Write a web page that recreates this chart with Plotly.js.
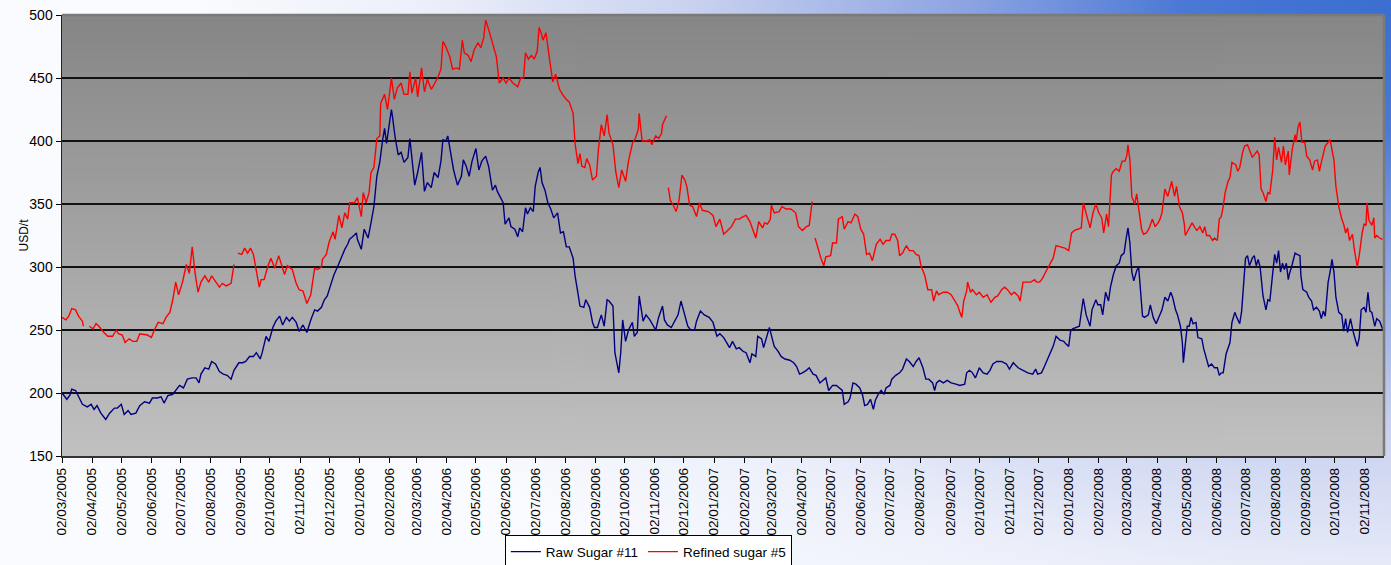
<!DOCTYPE html>
<html><head><meta charset="utf-8">
<script src="https://cdn.plot.ly/plotly-3.0.1.min.js"></script>
<style>
html,body{margin:0;padding:0;width:1391px;height:565px;overflow:hidden;}
body{background: radial-gradient(ellipse 1200px 740px at 100% 0%, #3a6ed0 0%, #4a78d5 17%, #8ea5e2 36%, #c8d1ef 58%, #eceffa 80%, #fafbfe 100%);}
#chart{width:1391px;height:565px;}
</style></head><body><div id="chart"></div><script>
// Days counted from 02/03/2005 (first trading day shown)
const startDate = '2005-03-02';
const endDate = '2008-11-21 12:00';

const monthLabels = ['02/03/2005','02/04/2005','02/05/2005','02/06/2005','02/07/2005','02/08/2005','02/09/2005','02/10/2005','02/11/2005','02/12/2005',
'02/01/2006','02/02/2006','02/03/2006','02/04/2006','02/05/2006','02/06/2006','02/07/2006','02/08/2006','02/09/2006','02/10/2006','02/11/2006','02/12/2006',
'02/01/2007','02/02/2007','02/03/2007','02/04/2007','02/05/2007','02/06/2007','02/07/2007','02/08/2007','02/09/2007','02/10/2007','02/11/2007','02/12/2007',
'02/01/2008','02/02/2008','02/03/2008','02/04/2008','02/05/2008','02/06/2008','02/07/2008','02/08/2008','02/09/2008','02/10/2008','02/11/2008'];

const rawDay = [0,5,8,10,14,18,21,26,30,33,36,40,45,49,54,57,61,64,68,71,76,80,85,90,93,98,102,105,109,114,117,121,125,129,134,138,141,143,147,151,154,158,162,166,170,174,177,182,186,189,193,197,200,204,206,210,213,217,220,224,227,231,234,237,241,244,248,252,256,260,263,267,270,273,277,280,284,287,291,294,296,299,303,304,308,311,315,318,321,324,327,330,332,334,336,339,340,343,346,349,352,356,358,360,363,366,370,373,376,380,383,387,390,392,395,397,400,403,407,411,413,416,419,422,426,429,432,436,439,443,446,448,450,454,456,460,462,466,469,471,474,477,479,482,485,487,490,492,494,497,500,503,506,510,513,516,519,522,526,528,531,533,537,539,543,546,548,551,555,558,561,563,567,569,571,573,575,577,580,583,587,589,592,594,598,601,605,608,611,614,618,620,623,627,630,634,637,641,644,647,651,653,657,661,666,670,674,677,681,684,687,690,694,697,701,704,708,710,714,716,720,722,725,728,731,733,737,740,744,749,753,756,759,762,766,769,773,776,780,783,786,789,793,797,800,803,805,809,811,814,817,821,824,826,829,832,835,837,840,843,846,848,852,854,858,862,865,869,872,876,879,882,886,889,892,896,898,900,903,907,911,915,920,924,929,931,934,937,940,944,948,952,955,958,962,967,972,975,979,984,989,994,999,1002,1004,1008,1011,1015,1018,1020,1023,1027,1031,1033,1036,1038,1040,1044,1047,1051,1054,1058,1060,1064,1066,1069,1071,1074,1077,1079,1082,1085,1088,1090,1093,1095,1097,1099,1101,1103,1106,1108,1110,1112,1114,1118,1120,1123,1126,1129,1132,1135,1138,1141,1143,1146,1148,1151,1153,1154,1156,1158,1160,1162,1164,1167,1169,1173,1175,1178,1180,1183,1186,1189,1191,1193,1195,1198,1200,1202,1204,1207,1209,1212,1214,1216,1218,1220,1222,1225,1227,1229,1231,1233,1236,1239,1241,1243,1246,1248,1250,1252,1254,1256,1258,1260,1262,1263,1266,1269,1271,1274,1275,1277,1281,1283,1286,1288,1291,1294,1296,1298,1300,1303,1305,1307,1309,1311,1314,1317,1319,1321,1323,1326,1329,1331,1333,1335,1337,1340,1342,1344,1346,1348,1351,1353,1356,1359];
const rawPrice = [200,195,198,203,202,195,191,189,191,187,190,184,179,184,188,188,191,183,186,183,184,190,193,192,196,196,197,192,198,199,202,206,204,211,212,212,208,215,220,219,225,223,217,215,214,211,218,224,224,225,229,229,232,227,232,245,241,252,257,261,254,260,257,260,256,249,254,248,258,266,265,268,274,277,287,294,301,307,314,318,322,324,327,322,314,330,323,335,348,372,383,401,410,398,409,425,420,402,389,391,383,387,402,388,365,375,391,360,367,363,375,371,384,401,400,404,392,377,365,372,385,380,372,384,394,377,384,388,380,361,365,360,357,351,334,339,332,330,324,331,328,347,342,347,344,364,375,379,367,361,351,346,339,343,327,328,316,316,307,293,279,269,268,274,268,256,252,252,262,253,274,273,269,232,224,216,232,258,241,250,256,245,248,277,257,262,258,254,250,260,269,258,254,252,256,262,273,262,253,250,250,257,265,262,260,256,245,247,244,240,236,241,235,236,233,232,224,231,229,245,243,236,244,252,243,237,233,229,227,226,224,221,215,216,218,220,215,214,208,210,212,202,206,206,204,202,191,193,196,208,207,204,198,190,191,195,187,194,199,202,199,204,206,211,214,216,219,227,225,221,225,228,220,211,211,208,202,208,210,208,210,208,207,206,207,216,218,216,212,220,216,215,218,223,225,225,223,219,224,220,218,216,215,219,215,216,221,228,233,237,245,242,241,239,237,249,251,252,253,275,262,253,266,274,270,270,262,280,273,284,294,301,303,309,311,322,331,319,296,289,297,300,280,261,260,262,270,260,255,261,266,276,273,280,276,266,262,253,240,224,240,253,253,260,255,256,244,243,235,227,221,223,220,220,214,216,216,231,235,240,256,264,260,255,265,289,307,309,301,307,309,301,306,300,277,266,274,273,293,310,303,313,296,303,298,303,290,294,302,311,310,309,293,282,280,276,273,266,268,265,259,265,261,288,296,306,296,276,264,262,249,259,248,259,248,243,237,244,266,268,264,280,265,264,253,259,257,251];

const refDay = [0,4,7,10,14,17,21,22,25,28,32,35,38,42,47,52,56,58,62,65,69,73,77,80,85,88,92,95,99,104,107,111,114,117,120,124,128,131,134,137,140,143,147,151,154,158,162,165,169,174,176,177,179,181,185,188,191,194,197,200,203,205,208,212,215,219,223,229,232,237,241,244,248,252,256,260,263,267,268,272,275,279,281,285,288,291,294,296,301,304,308,310,313,316,318,321,324,327,328,332,335,339,342,345,349,352,356,358,360,364,366,370,373,376,380,383,387,390,392,395,399,402,406,409,412,414,418,421,424,428,431,434,436,440,443,447,450,454,457,460,464,469,472,475,477,480,483,486,489,491,493,495,498,501,503,505,508,512,515,519,522,526,528,531,533,535,538,540,543,546,550,552,555,558,561,563,567,570,573,576,580,583,587,590,593,594,597,601,605,607,611,614,617,618,622,623,624,626,629,632,635,638,641,643,646,649,653,656,659,665,670,673,677,681,685,689,693,697,701,704,708,711,714,717,721,723,726,729,730,733,738,741,745,750,755,758,762,766,769,772,774,775,778,781,784,786,791,793,797,799,803,805,809,812,816,819,822,825,828,831,834,838,842,845,848,852,854,857,860,862,865,869,872,876,879,882,884,888,891,895,897,900,902,907,911,915,919,922,924,926,928,931,932,935,937,941,944,948,952,956,960,963,967,970,973,977,980,984,986,989,993,997,1001,1003,1006,1009,1013,1016,1020,1023,1027,1032,1036,1039,1042,1047,1049,1051,1054,1057,1058,1061,1064,1067,1070,1072,1075,1077,1080,1082,1085,1088,1091,1094,1096,1097,1099,1101,1104,1106,1108,1111,1113,1116,1119,1122,1125,1128,1130,1132,1135,1138,1142,1145,1147,1150,1153,1155,1156,1160,1163,1166,1168,1171,1174,1176,1178,1181,1184,1186,1189,1191,1193,1195,1197,1200,1202,1204,1208,1210,1212,1215,1217,1220,1222,1225,1227,1230,1232,1234,1236,1239,1241,1243,1246,1248,1250,1252,1255,1257,1259,1262,1263,1266,1269,1270,1272,1274,1276,1279,1281,1284,1287,1289,1292,1294,1296,1298,1300,1303,1305,1307,1309,1311,1314,1317,1319,1321,1323,1325,1328,1330,1333,1335,1338,1340,1342,1343,1345,1348,1350,1351,1353,1356,1359];
const refPrice = [260,258,261,267,266,261,257,253,null,253,251,255,253,249,245,245,250,247,246,240,243,241,241,247,246,246,244,250,256,255,260,264,274,288,278,288,302,295,316,295,280,288,293,288,293,288,284,287,285,287,298,302,null,311,310,315,311,315,310,297,284,290,290,301,307,299,309,294,301,298,287,282,281,271,278,299,298,300,306,310,320,328,322,341,331,343,338,351,351,355,340,359,351,359,375,379,402,404,430,437,425,450,433,442,446,437,437,455,438,450,435,458,439,449,441,445,451,457,479,475,467,457,458,457,480,470,468,463,472,478,474,482,496,486,478,467,446,450,446,450,446,443,450,450,470,465,468,465,471,490,486,480,486,470,458,447,453,441,437,433,431,422,398,382,390,380,379,386,381,369,372,393,413,404,421,406,397,375,363,377,368,384,398,402,409,422,400,400,401,397,404,402,406,413,420,null,363,353,349,344,353,373,369,364,349,348,340,351,345,344,341,332,338,326,329,332,338,338,340,341,336,330,323,336,331,335,334,338,349,343,344,348,346,346,343,332,329,332,333,352,null,323,314,307,301,308,309,319,319,338,340,330,336,335,342,340,330,326,310,311,305,318,322,318,321,321,326,326,321,309,311,317,313,313,310,309,301,293,282,282,273,281,278,280,280,278,273,269,264,260,273,281,288,280,282,278,280,276,278,272,276,277,282,284,282,278,280,277,273,288,288,288,290,288,288,291,297,301,307,317,316,315,313,327,329,330,331,351,343,335,331,343,350,343,339,327,342,332,373,376,378,376,384,384,389,397,385,356,350,358,348,330,326,327,331,338,332,335,338,343,362,356,368,356,364,348,343,334,325,331,335,331,329,332,327,332,325,325,321,323,321,338,340,348,359,368,371,383,381,376,379,391,396,397,393,387,389,392,389,362,359,352,359,358,377,403,385,395,383,396,381,392,373,393,405,399,411,415,399,399,388,385,377,384,385,376,383,391,396,399,401,393,385,364,348,338,334,327,331,321,326,314,300,309,327,334,333,351,337,333,339,323,325,323,322];

function dayToDate(d) {
  const t = new Date(Date.parse(startDate + 'T00:00:00Z') + d * 86400000);
  return t.toISOString().slice(0, 10);
}
function labelToDate(s) {
  const p = s.split('/');
  return p[2] + '-' + p[1] + '-' + p[0];
}

// plot-area gradient background image
const cv = document.createElement('canvas');
cv.width = 4; cv.height = 256;
const cx = cv.getContext('2d');
const g = cx.createLinearGradient(0, 0, 0, 256);
g.addColorStop(0, '#868686');
g.addColorStop(1, '#c1c1c1');
cx.fillStyle = g; cx.fillRect(0, 0, 4, 256);
const bgUrl = cv.toDataURL('image/png');

const font = 'Liberation Sans, Arial, sans-serif';

const traces = [
  {
    name: 'Raw Sugar #11', type: 'scatter', mode: 'lines',
    x: rawDay.map(dayToDate), y: rawPrice,
    line: {color: '#000080', width: 1.4}, connectgaps: false, hoverinfo: 'x+y'
  },
  {
    name: 'Refined sugar #5', type: 'scatter', mode: 'lines',
    x: refDay.map(dayToDate), y: refPrice,
    line: {color: '#ff0000', width: 1.4}, connectgaps: false, hoverinfo: 'x+y'
  }
];

const layout = {
  width: 1391, height: 565,
  margin: {l: 62, r: 7, t: 15, b: 109, autoexpand: false},
  paper_bgcolor: 'rgba(0,0,0,0)',
  plot_bgcolor: 'rgba(0,0,0,0)',
  font: {family: font, color: '#000', size: 13},
  showlegend: true,
  legend: {
    orientation: 'h', x: 0.335, xanchor: 'left', y: -0.18, yanchor: 'top',
    bgcolor: '#ffffff', bordercolor: '#000', borderwidth: 1,
    font: {family: font, size: 13.5, color: '#000'}, itemwidth: 30,
    traceorder: 'normal'
  },
  xaxis: {
    type: 'date', range: [startDate, endDate],
    tickmode: 'array', tickvals: monthLabels.map(labelToDate), ticktext: monthLabels,
    tickangle: -90, tickfont: {family: font, size: 13.5, color: '#000'},
    ticks: 'outside', ticklen: 5, tickcolor: '#000', tickwidth: 1,
    showgrid: false, zeroline: false,
    showline: true, linecolor: '#333', linewidth: 1.5
  },
  yaxis: {
    range: [150, 500], tick0: 150, dtick: 50,
    tickfont: {family: font, size: 14, color: '#000'},
    ticks: 'outside', ticklen: 5, tickcolor: '#000', tickwidth: 1,
    showgrid: true, gridcolor: '#111', gridwidth: 1.2, zeroline: false,
    showline: true, linecolor: '#222', linewidth: 1.5,
    title: {text: 'USD/t', font: {family: font, size: 12, color: '#000'}}
  },
  images: [{
    source: bgUrl, xref: 'paper', yref: 'paper', x: 0, y: 1,
    sizex: 1, sizey: 1, sizing: 'stretch', xanchor: 'left', yanchor: 'top', layer: 'below'
  }],
  shapes: [
    {type: 'line', xref: 'paper', yref: 'paper', x0: 0, x1: 1, y0: 1, y1: 1, line: {color: '#7a7a7a', width: 2.5}, layer: 'above'},
    {type: 'line', xref: 'paper', yref: 'paper', x0: 1, x1: 1, y0: 0, y1: 1, line: {color: '#7a7a7a', width: 2.5}, layer: 'above'}
  ]
};

Plotly.newPlot('chart', traces, layout, {displayModeBar: false, staticPlot: true});
</script></body></html>
